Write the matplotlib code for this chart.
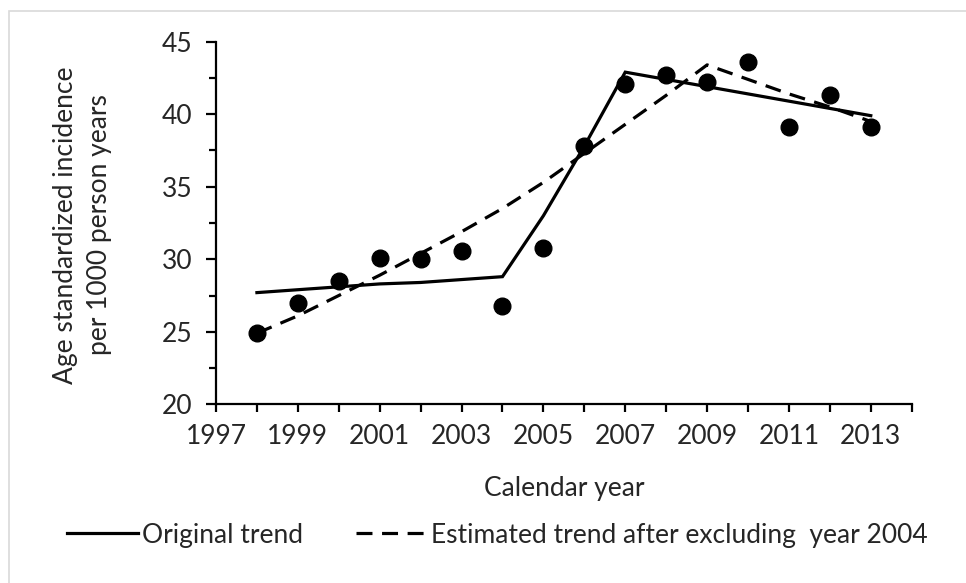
import matplotlib.pyplot as plt
from matplotlib.patches import Rectangle

# observed incidence per calendar year
years = list(range(1998, 2014))
incidence = [24.9, 27.0, 28.5, 30.1, 30.0, 30.6, 26.8, 30.8,
             37.8, 42.1, 42.7, 42.2, 43.6, 39.1, 41.3, 39.1]

# joinpoint trends
orig_trend = [27.7, 27.9, 28.1, 28.3, 28.4, 28.6, 28.8, 33.0,
              37.8, 42.9, 42.4, 41.9, 41.4, 40.9, 40.4, 39.9]
excl_trend = [24.9, 26.1, 27.5, 28.9, 30.4, 31.9, 33.5, 35.3,
              37.3, 39.3, 41.3, 43.4, 42.4, 41.4, 40.5, 39.5]

xticks = list(range(1997, 2014, 2))
yticks = [20, 25, 30, 35, 40, 45]

plt.rcParams["font.family"] = ["Lato", "DejaVu Sans"]
text_col = "#262626"
fs = 19

fig = plt.figure(figsize=(9.66, 5.83), dpi=100)
ax = fig.add_axes([0.2236, 0.3065, 0.9438 - 0.2236, 0.9285 - 0.3065])

ax.plot(years, orig_trend, color="black", lw=2.3, solid_joinstyle="miter",
        label="Original trend")
ax.plot(years, excl_trend, color="black", lw=2.3, dashes=(5, 3),
        label="Estimated trend after excluding  year 2004")
ax.plot(years, incidence, "o", color="black", ms=12, zorder=3)

ax.set_xlim(1997, 2014)
ax.set_ylim(20, 45)
ax.set_xticks(range(1997, 2015), minor=True)
ax.set_xticks(xticks)
ax.set_yticks(yticks)
ax.set_yticks([22.5, 27.5, 32.5, 37.5, 42.5], minor=True)

for s in ["top", "right"]:
    ax.spines[s].set_visible(False)
for s in ["left", "bottom"]:
    ax.spines[s].set_linewidth(1.6)

ax.tick_params(axis="both", which="both", direction="out", width=1.6,
               color="black", labelsize=fs, labelcolor=text_col)
ax.tick_params(axis="y", which="major", length=7, pad=10)
ax.tick_params(axis="y", which="minor", length=5)
ax.tick_params(axis="x", which="both", length=5.5, pad=9)

ax.set_xlabel("Calendar year", fontsize=fs, color=text_col, va="center")
ax.xaxis.set_label_coords(0.5, (404.3 - 488) / 362.6)
ax.set_ylabel("Age standardized incidence\nper 1000 person years",
              fontsize=fs, color=text_col, linespacing=1.45, va="center")
ax.yaxis.set_label_coords((82 - 216) / 696, (404.3 - 225) / 362.6)

fig.legend(loc="center", bbox_to_anchor=(0.515, 1 - 535 / 583), ncol=2,
           frameon=False, fontsize=fs, handlelength=2.7, handletextpad=0.15,
           columnspacing=2.0, labelcolor=text_col)

# thin grey frame around the chart area
fig.patches.append(Rectangle((9 / 966, -0.1), 1.2, 1 - 11 / 583 + 0.1,
                             transform=fig.transFigure, fill=False,
                             edgecolor="#d9d9d9", lw=1.2))

fig.savefig("out.png", dpi=100)
